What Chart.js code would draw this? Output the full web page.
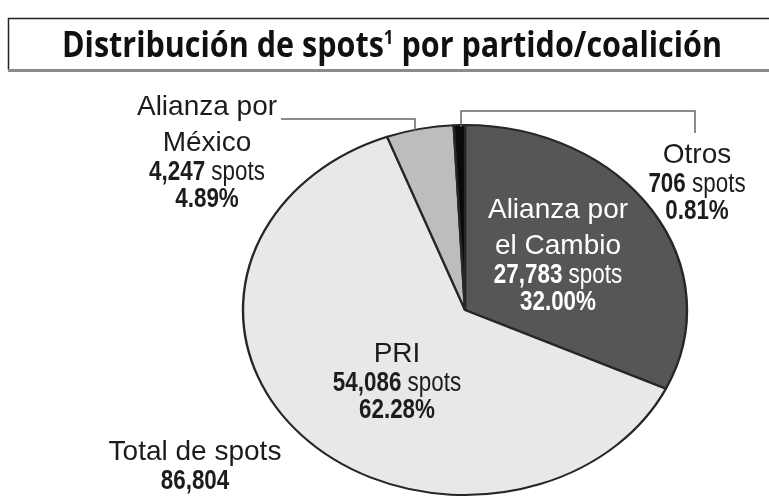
<!DOCTYPE html>
<html>
<head>
<meta charset="utf-8">
<script src="https://cdn.jsdelivr.net/npm/chart.js@4.4.1/dist/chart.umd.min.js"></script>
<style>
  html, body { margin: 0; padding: 0; background: #fff; }
</style>
</head>
<body>
<canvas id="spotsChart" width="769" height="497"></canvas>
<script>
// datos
const partidos = ["Alianza por el Cambio", "PRI", "Alianza por México", "Otros"];
const spots = [27783, 54086, 4247, 706];
const porcentajes = ["32.00%", "62.28%", "4.89%", "0.81%"];
const nombres = [["Alianza por", "el Cambio"], ["PRI"], ["Alianza por", "México"], ["Otros"]];
const totalTexto = "Total de spots";
const totalSpots = 86804;
// title pieces: text, superscript?
const titulo = [["Distribución de spots", false], ["1", true], [" por partido/coalición", false]];

const colores = ["#565656", "#e8e8e8", "#bdbdbd", "#0a0a0a"];
const coloresTexto = ["#ffffff", "#1c1c1c", "#1c1c1c", "#1c1c1c"];
// label anchors: [center x, first baseline]
const posEtiquetas = [[558, 218], [397, 362], [207, 115], [697, 163]];
const SX = 1.2; // pie is drawn as an ellipse

const fmt = n => n.toLocaleString("en-US");

function linea(ctx, partes, x, y, color, size, sx) {
  ctx.save();
  ctx.translate(x, y);
  ctx.scale(sx, 1);
  ctx.fillStyle = color;
  ctx.textAlign = "left";
  ctx.textBaseline = "alphabetic";
  let w = 0;
  partes.forEach(([t, b]) => {
    ctx.font = (b ? "bold " : "") + size + "px 'Liberation Sans', Arial, sans-serif";
    w += ctx.measureText(t).width;
  });
  let cx = -w / 2;
  partes.forEach(([t, b]) => {
    ctx.font = (b ? "bold " : "") + size + "px 'Liberation Sans', Arial, sans-serif";
    ctx.fillText(t, cx, 0);
    cx += ctx.measureText(t).width;
  });
  ctx.restore();
}

const elipse = {
  id: "elipse",
  beforeDatasetsDraw(chart) {
    const arc = chart.getDatasetMeta(0).data[0];
    const ctx = chart.ctx;
    ctx.save();
    ctx.translate(arc.x, arc.y);
    ctx.scale(SX, 1);
    ctx.translate(-arc.x, -arc.y);
  },
  afterDatasetsDraw(chart) {
    chart.ctx.restore();
  }
};

const encabezado = {
  id: "encabezado",
  afterDraw(chart) {
    const ctx = chart.ctx;
    ctx.save();
    // box
    ctx.strokeStyle = "#222";
    ctx.lineWidth = 1.5;
    ctx.beginPath();
    ctx.moveTo(769, 18.5);
    ctx.lineTo(8.5, 18.5);
    ctx.lineTo(8.5, 70);
    ctx.stroke();
    ctx.strokeStyle = "#8a8a8a";
    ctx.lineWidth = 3;
    ctx.beginPath();
    ctx.moveTo(8, 70.5);
    ctx.lineTo(769, 70.5);
    ctx.stroke();
    // title text, squeezed to the reference width
    const fuente = sup => "bold " + (sup ? 20 : 36) + "px 'Open Sans', 'DejaVu Sans', sans-serif";
    let w = 0;
    titulo.forEach(([t, sup]) => { ctx.font = fuente(sup); w += ctx.measureText(t).width; });
    const sx = 660 / w;
    ctx.translate(392, 57);
    ctx.scale(sx, 1);
    ctx.fillStyle = "#111";
    ctx.textAlign = "left";
    let x = -w / 2;
    titulo.forEach(([t, sup]) => {
      ctx.font = fuente(sup);
      ctx.fillText(t, x, sup ? -13 : 0);
      x += ctx.measureText(t).width;
    });
    ctx.restore();
  }
};

const etiquetas = {
  id: "etiquetas",
  afterDraw(chart) {
    const ctx = chart.ctx;
    // leader lines
    ctx.save();
    ctx.strokeStyle = "#666";
    ctx.lineWidth = 1.5;
    ctx.beginPath();
    ctx.moveTo(281, 119);
    ctx.lineTo(415, 119);
    ctx.lineTo(415, 131);
    ctx.moveTo(461, 127);
    ctx.lineTo(461, 111);
    ctx.lineTo(695, 111);
    ctx.lineTo(695, 133);
    ctx.stroke();
    ctx.restore();

    nombres.forEach((lineas, i) => {
      const [x, y0] = posEtiquetas[i];
      const col = coloresTexto[i];
      let y = y0;
      lineas.forEach((t, k) => {
        if (k > 0) y += 36;
        linea(ctx, [[t, false]], x, y, col, 28, 1);
      });
      y += 28.5;
      linea(ctx, [[fmt(spots[i]), true], [" spots", false]], x, y, col, 27, 0.83);
      y += 27.5;
      linea(ctx, [[porcentajes[i], true]], x, y, col, 27, 0.83);
    });

    linea(ctx, [[totalTexto, false]], 195, 460, "#1c1c1c", 28, 1);
    linea(ctx, [[fmt(totalSpots), true]], 195, 489, "#1c1c1c", 27, 0.83);
  }
};

new Chart(document.getElementById("spotsChart"), {
  type: "pie",
  data: {
    labels: partidos,
    datasets: [{
      data: spots,
      backgroundColor: colores,
      borderColor: "#262626",
      borderWidth: 2,
      radius: 185,
      hoverOffset: 0
    }]
  },
  options: {
    responsive: false,
    animation: false,
    events: [],
    rotation: 0,
    layout: { padding: { left: 280, right: 119, top: 125, bottom: 2 } },
    plugins: {
      legend: { display: false },
      tooltip: { enabled: false }
    }
  },
  plugins: [elipse, encabezado, etiquetas]
});
</script>
</body>
</html>
